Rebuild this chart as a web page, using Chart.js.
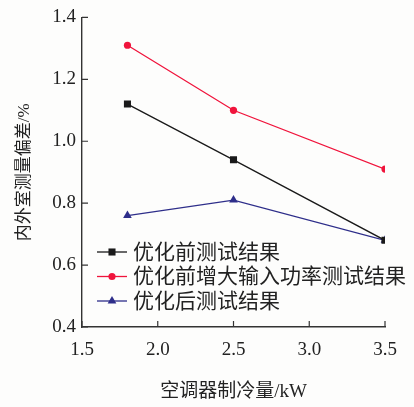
<!DOCTYPE html>
<html>
<head>
<meta charset="utf-8">
<script src="https://cdn.jsdelivr.net/npm/chart.js@4/dist/chart.umd.min.js"></script>
<style>
  html, body { margin: 0; padding: 0; background: #fdfdfc; }
  #wrap { width: 414px; height: 407px; }
</style>
</head>
<body>
<div id="wrap"><canvas id="c" width="414" height="407"></canvas></div>
<script>
// data
var capacity = [1.8, 2.5, 3.5];                 // 空调器制冷量 kW
var beforeOpt = [1.12, 0.94, 0.68];             // 优化前测试结果
var beforeBoost = [1.31, 1.10, 0.91];           // 优化前增大输入功率测试结果
var afterOpt = [0.76, 0.81, 0.68];              // 优化后测试结果
var seriesNames = ["优化前测试结果", "优化前增大输入功率测试结果", "优化后测试结果"];
var xTicks = [1.5, 2.0, 2.5, 3.0, 3.5];
var yTicks = [0.4, 0.6, 0.8, 1.0, 1.2, 1.4];

var colors = ["#1a1a1a", "#f0143c", "#2e2e8a"];
var styles = ["rect", "circle", "triangle"];
var radii = [5, 3.6, 5];

function pts(ys) {
    return capacity.map(function (x, i) { return { x: x, y: ys[i] }; });
}

var serif = "'Liberation Serif', 'Noto Sans CJK SC', serif";

function marker(ctx, style, x, y, r, color) {
    ctx.save();
    ctx.fillStyle = color;
    ctx.beginPath();
    if (style == "rect") {
        var s = Math.SQRT1_2 * r;
        ctx.rect(x - s, y - s, 2 * s, 2 * s);
    } else if (style == "circle") {
        ctx.arc(x, y, r, 0, Math.PI * 2);
    } else {
        ctx.moveTo(x, y - r);
        ctx.lineTo(x + r * 0.87, y + r * 0.5);
        ctx.lineTo(x - r * 0.87, y + r * 0.5);
        ctx.closePath();
    }
    ctx.fill();
    ctx.restore();
}

var decor = {
    id: "decor",
    beforeDraw: function (chart) {
        var ctx = chart.ctx;
        ctx.save();
        ctx.fillStyle = "#fdfdfc";
        ctx.fillRect(0, 0, chart.width, chart.height);
        ctx.restore();
    },
    afterDraw: function (chart) {
        var ctx = chart.ctx, a = chart.chartArea;
        var xs = chart.scales.x, ys = chart.scales.y;
        ctx.save();
        // inward ticks
        ctx.strokeStyle = "#333";
        ctx.lineWidth = 1.2;
        ctx.beginPath();
        xTicks.forEach(function (v) {
            var px = xs.getPixelForValue(v);
            ctx.moveTo(px, a.bottom);
            ctx.lineTo(px, a.bottom - 6);
        });
        yTicks.forEach(function (v) {
            var py = ys.getPixelForValue(v);
            ctx.moveTo(a.left, py);
            ctx.lineTo(a.left + 6, py);
        });
        ctx.stroke();

        // legend inside the plot, line + marker
        ctx.font = "21px " + serif;
        ctx.textBaseline = "middle";
        for (var i = 0; i < seriesNames.length; i++) {
            var y = a.bottom - 75 + i * 24.5;
            var x0 = a.left + 15;
            ctx.strokeStyle = colors[i];
            ctx.lineWidth = 1.3;
            ctx.beginPath();
            ctx.moveTo(x0, y);
            ctx.lineTo(x0 + 30, y);
            ctx.stroke();
            marker(ctx, styles[i], x0 + 15, y, radii[i], colors[i]);
            ctx.fillStyle = "#222";
            ctx.fillText(seriesNames[i], x0 + 36, y + 1);
        }
        ctx.restore();
    }
};

var sets = [beforeOpt, beforeBoost, afterOpt].map(function (ys, i) {
    return {
        label: seriesNames[i],
        data: pts(ys),
        borderColor: colors[i],
        backgroundColor: colors[i],
        borderWidth: 1.3,
        pointStyle: styles[i],
        pointRadius: radii[i],
        pointBorderWidth: 0,
        tension: 0
    };
});

new Chart(document.getElementById("c").getContext("2d"), {
    type: "line",
    data: { datasets: sets },
    plugins: [decor],
    options: {
        responsive: false,
        animation: false,
        layout: { padding: { left: 0, right: 29, top: 6, bottom: 0 } },
        plugins: { legend: { display: false }, tooltip: { enabled: false } },
        scales: {
            x: {
                type: "linear",
                min: 1.5, max: 3.5,
                afterBuildTicks: function (s) { s.ticks = xTicks.map(function (v) { return { value: v }; }); },
                afterFit: function (s) { s.height = 80; },
                grid: { drawOnChartArea: false, drawTicks: false },
                border: { color: "#333", width: 1.4 },
                ticks: {
                    padding: 12,
                    color: "#222",
                    font: { family: serif, size: 19 },
                    callback: function (v) { return v.toFixed(1); }
                },
                title: {
                    display: true,
                    text: "空调器制冷量/kW",
                    color: "#222",
                    font: { family: serif, size: 19 },
                    padding: { top: 0, bottom: 4 }
                }
            },
            y: {
                min: 0.4, max: 1.4,
                afterBuildTicks: function (s) { s.ticks = yTicks.map(function (v) { return { value: v }; }); },
                afterFit: function (s) { s.width = 82; },
                grid: { drawOnChartArea: false, drawTicks: false },
                border: { color: "#333", width: 1.4 },
                ticks: {
                    padding: 6,
                    color: "#222",
                    font: { family: serif, size: 19 },
                    callback: function (v) { return v.toFixed(1); }
                },
                title: {
                    display: true,
                    text: "内外室测量偏差/%",
                    color: "#222",
                    font: { family: serif, size: 17 },
                    padding: { top: 14, bottom: 0 }
                }
            }
        }
    }
});
</script>
</body>
</html>
